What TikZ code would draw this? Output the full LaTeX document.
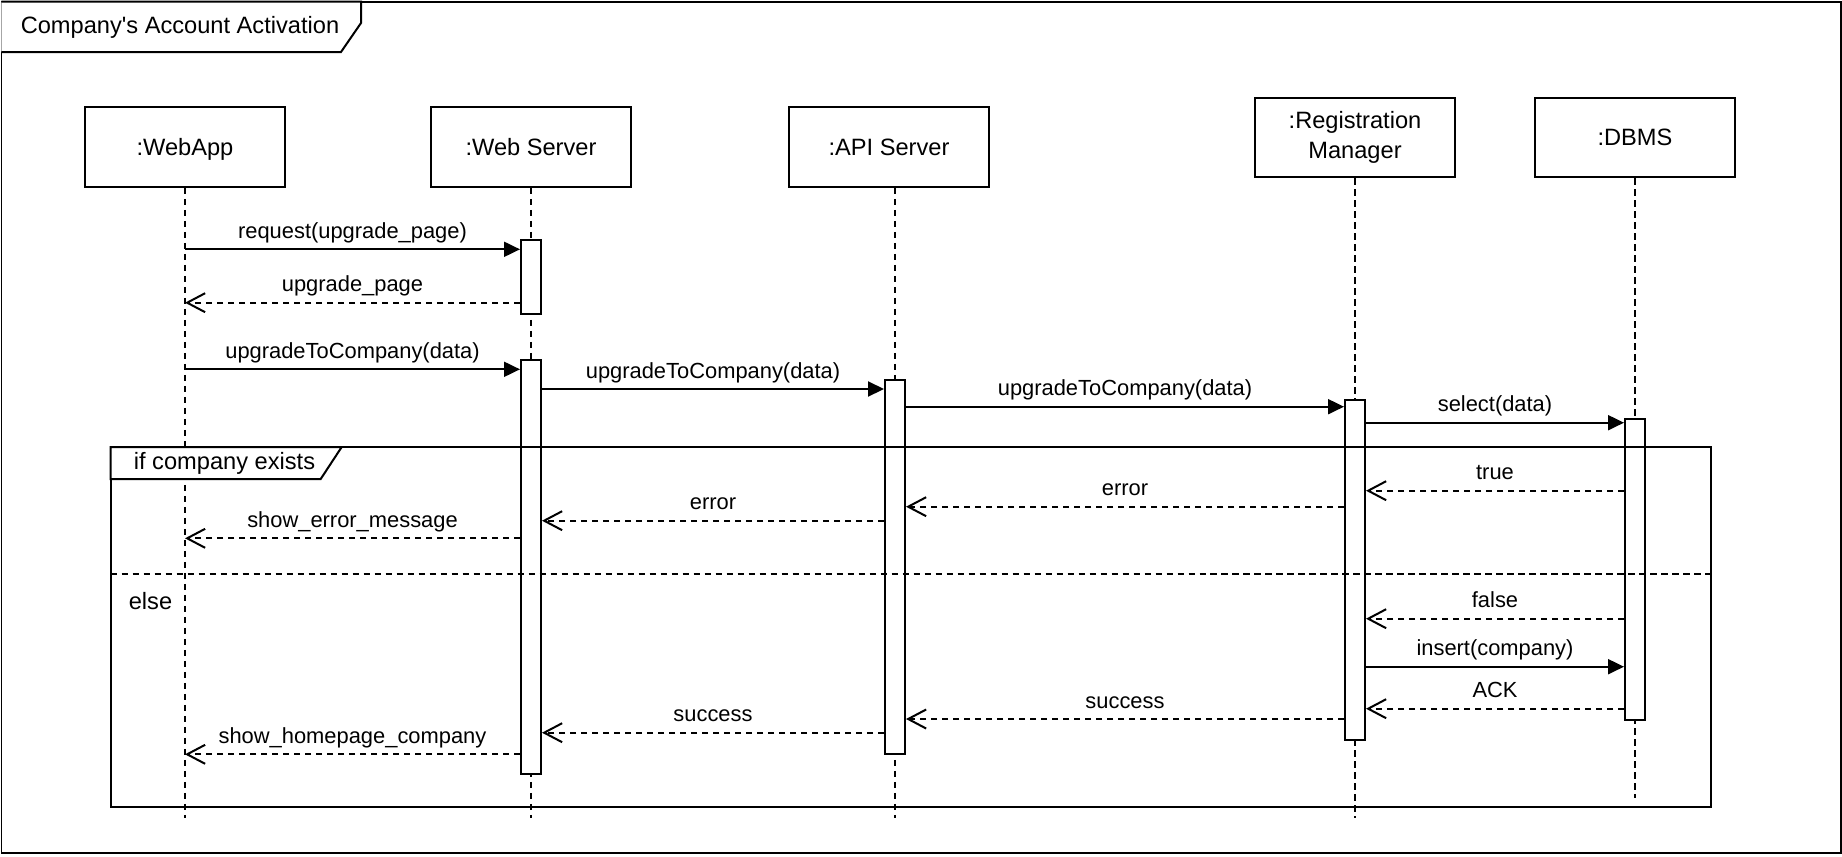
\documentclass[tikz,border=0pt]{standalone}
\usepackage{fontspec}
\newfontfamily\diafont{Liberation Sans}
\usetikzlibrary{arrows.meta}

\begin{document}
\begin{tikzpicture}[x=0.02cm,y=-0.02cm,line width=0.04cm,
    big/.style={font=\diafont\fontsize{13.45}{17.2}\selectfont},
    head/.style={draw,fill=white,big,minimum width=4cm,minimum height=1.6cm,inner sep=0pt},
    headone/.style={head,text height=12.17pt,text depth=2.85pt},
    bar/.style={draw,fill=white,minimum width=0.4cm,inner sep=0pt,anchor=north},
    life/.style={dash pattern=on 0.13cm off 0.09cm},
    call/.style={-{Triangle[length=0.32cm,width=0.3cm]}},
    reply/.style={life,-{Straight Barb[length=0.36cm,width=0.38cm]}},
    msg/.style={midway,anchor=base,yshift=0.22cm,font=\diafont\fontsize{12.46}{15}\selectfont}]
    \useasboundingbox (0,0) rectangle (1842,856);

    % Outer frame and its title
    \draw (1.5,1.5) rectangle (1840.5,852.5);%
    \draw [fill=white] (1.5,1.5) -- (361,1.5) -- (361,23) -- (341,52) -- (1.5,52);%
    \node [big,anchor=base] (title) at (180,33.3) {Company's Account Activation};%

    % Lifeline heads
    \node [headone] (webapp) at (185,147) {:WebApp};%
    \node [headone] (websrv) at (531,147) {:Web Server};%
    \node [headone] (apisrv) at (889,147) {:API Server};%
    \node [head,align=center] (regman) at (1355,137.5) {:Registration\\Manager};%
    \node [headone] (dbms) at (1635,137.5) {:DBMS};%

    % Lifelines
    \coordinate (webappEnd) at (185,818);
    \coordinate (websrvEnd) at (531,818);
    \coordinate (apisrvEnd) at (895,818);
    \coordinate (regmanEnd) at (1355,818);
    \coordinate (dbmsEnd) at (1635,798);
    \draw [life] (webapp.south -| webappEnd) -- (webappEnd);%
    \draw [life] (websrv.south -| websrvEnd) -- (websrvEnd);%
    \draw [life] (apisrv.south -| apisrvEnd) -- (apisrvEnd);%
    \draw [life] (regman.south -| regmanEnd) -- (regmanEnd);%
    \draw [life] (dbms.south -| dbmsEnd) -- (dbmsEnd);%

    % Activation bars
    \node [bar,minimum height=1.474cm] (ws1) at (531,239) {};%
    \node [bar,minimum height=8.28cm] (ws2) at (531,359) {};%
    \node [bar,minimum height=7.474cm] (api) at (895,379) {};%
    \node [bar,minimum height=6.8cm] (rm) at (1355,399) {};%
    \node [bar,minimum height=6.014cm] (db) at (1635,418.3) {};%

    % Fragment alt
    \draw (110.7,447) rectangle (1711,806.7);%
    \draw [life] (110.7,573.7) -- (1711,573.7);%
    \draw [fill=white] (110.7,447) -- (341.7,447) -- (320.7,479) -- (110.7,479) -- cycle;%
    \node [big,anchor=base] (altif) at (224.5,469) {if company exists};%
    \node [big,anchor=base] (altelse) at (150.5,609.3) {else};%

    % Messages before the fragment
    \draw [call] (webapp |- 0,249.3) -- (ws1.west |- 0,249.3) node [msg] {request(upgrade\_page)};%
    \draw [reply] (ws1.west |- 0,302.7) -- (webapp |- 0,302.7) node [msg] {upgrade\_page};%
    \draw [call] (webapp |- 0,369.3) -- (ws2.west |- 0,369.3) node [msg] {upgradeToCompany(data)};%
    \draw [call] (ws2.east |- 0,389) -- (api.west |- 0,389) node [msg] {upgradeToCompany(data)};%
    \draw [call] (api.east |- 0,406.7) -- (rm.west |- 0,406.7) node [msg] {upgradeToCompany(data)};%
    \draw [call] (rm.east |- 0,422.7) -- (db.west |- 0,422.7) node [msg] {select(data)};%

    % Messages when the company exists
    \draw [reply] (db.west |- 0,490.7) -- (rm.east |- 0,490.7) node [msg] {true};%
    \draw [reply] (rm.west |- 0,506.7) -- (api.east |- 0,506.7) node [msg] {error};%
    \draw [reply] (api.west |- 0,520.7) -- (ws2.east |- 0,520.7) node [msg] {error};%
    \draw [reply] (ws2.west |- 0,538.3) -- (webapp |- 0,538.3) node [msg] {show\_error\_message};%

    % Messages otherwise
    \draw [reply] (db.west |- 0,618.7) -- (rm.east |- 0,618.7) node [msg] {false};%
    \draw [call] (rm.east |- 0,666.7) -- (db.west |- 0,666.7) node [msg] {insert(company)};%
    \draw [reply] (db.west |- 0,708.7) -- (rm.east |- 0,708.7) node [msg] {ACK};%
    \draw [reply] (rm.west |- 0,719) -- (api.east |- 0,719) node [msg] {success};%
    \draw [reply] (api.west |- 0,732.7) -- (ws2.east |- 0,732.7) node [msg] {success};%
    \draw [reply] (ws2.west |- 0,754.3) -- (webapp |- 0,754.3) node [msg] {show\_homepage\_company};%
\end{tikzpicture}
\end{document}
